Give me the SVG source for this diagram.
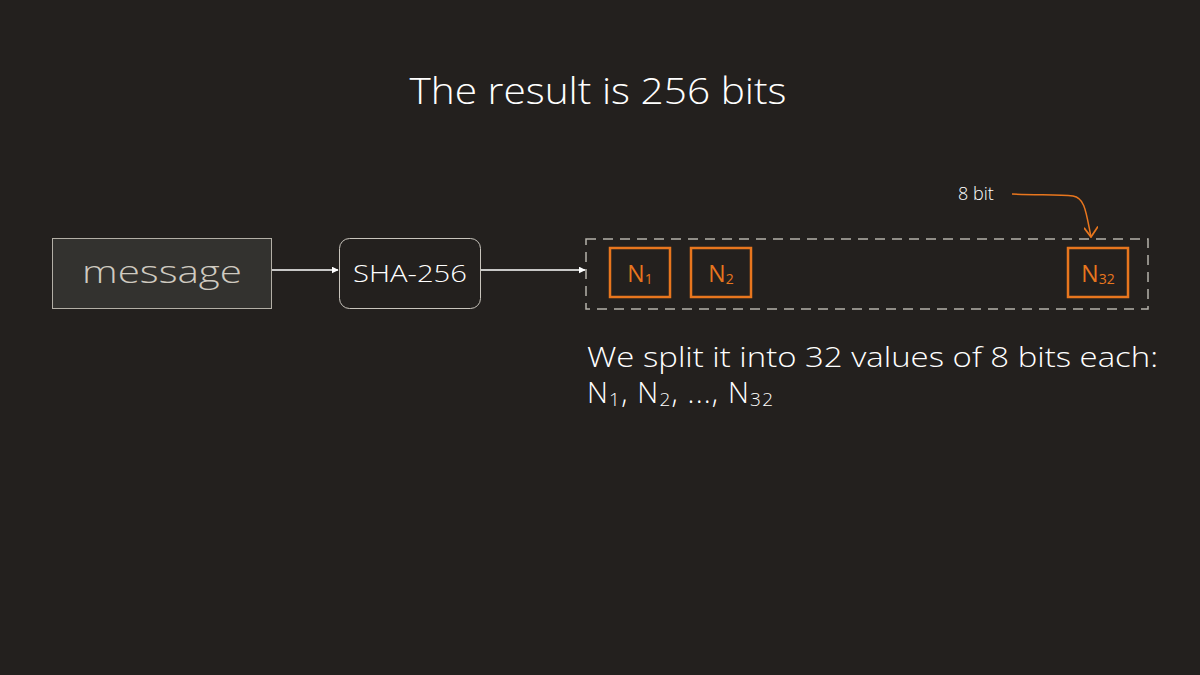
<svg xmlns="http://www.w3.org/2000/svg" width="1200" height="675" viewBox="0 0 1200 675">
<defs>
<style>
text{font-family:"Open Sans","Noto Sans","DejaVu Sans",sans-serif;font-weight:300}
.w{fill:#ffffff}
.o{fill:#e8761e;font-weight:400}
.ob{fill:none;stroke:#e8761e;stroke-width:2.5}
.sub{font-size:14px}
</style>
<marker id="ah" viewBox="0 0 10 10" refX="9" refY="5" markerWidth="7" markerHeight="7" orient="auto" markerUnits="userSpaceOnUse">
<path d="M0,0 L10,5 L0,10 z" fill="#ffffff"/>
</marker>
<marker id="oh" viewBox="0 0 12 12" refX="6" refY="11" markerWidth="14" markerHeight="14" orient="0" markerUnits="userSpaceOnUse">
<path d="M0,3 L6,11 L12,2" fill="none" stroke="#e8761e" stroke-width="1.5"/>
</marker>
</defs>
<rect width="1200" height="675" fill="#23201e"/>
<text x="598" y="104" text-anchor="middle" font-size="36" class="w" textLength="377" lengthAdjust="spacingAndGlyphs">The result is 256 bits</text>
<g id="message">
<rect x="52.5" y="238.5" width="219" height="70" fill="#33322f" stroke="#b3afa6" stroke-width="1"/>
<text x="162" y="283" text-anchor="middle" font-size="32" fill="#cfcac0" textLength="160" lengthAdjust="spacingAndGlyphs">message</text>
</g>
<g id="sha256">
<rect x="339.5" y="238.5" width="141" height="70" rx="10" fill="#23201e" stroke="#c8c4bc" stroke-width="1"/>
<text x="410" y="282" text-anchor="middle" font-size="24" class="w" textLength="114" lengthAdjust="spacingAndGlyphs">SHA-256</text>
</g>
<g id="result">
<rect x="586" y="239" width="562" height="70" fill="none" stroke="#b5b1aa" stroke-width="1.5" stroke-dasharray="10,7"/>
<g id="n1">
<rect x="610" y="248" width="60" height="49" class="ob"/>
<text x="640" y="282" text-anchor="middle" font-size="23" class="o">N<tspan class="sub" dy="2">1</tspan></text>
</g>
<g id="n2">
<rect x="691" y="248" width="60" height="49" class="ob"/>
<text x="721" y="282" text-anchor="middle" font-size="23" class="o">N<tspan class="sub" dy="2">2</tspan></text>
</g>
<g id="n32">
<rect x="1068" y="248" width="60" height="49" class="ob"/>
<text x="1098" y="282" text-anchor="middle" font-size="23" class="o">N<tspan class="sub" dy="2">32</tspan></text>
</g>
</g>
<g id="label8bit">
<text x="958" y="200" font-size="18" class="w">8 bit</text>
</g>
<g id="connectors">
<line x1="272" y1="270" x2="338" y2="270" stroke="#ffffff" stroke-width="1.5" marker-end="url(#ah)"/>
<line x1="481" y1="270" x2="585" y2="270" stroke="#ffffff" stroke-width="1.5" marker-end="url(#ah)"/>
<path d="M1012,194 C1040,195 1060,195 1073,196 C1085,198 1086,212 1091,237" fill="none" stroke="#e8761e" stroke-width="1.5" marker-end="url(#oh)"/>
</g>
<text x="587" y="367" font-size="28" class="w" textLength="571" lengthAdjust="spacingAndGlyphs">We split it into 32 values of 8 bits each:</text>
<text x="587" y="403" font-size="29" class="w" textLength="186" lengthAdjust="spacing">N<tspan font-size="19" dy="3">1</tspan><tspan dy="-3">, N</tspan><tspan font-size="19" dy="3">2</tspan><tspan dy="-3">, ..., N</tspan><tspan font-size="19" dy="3">32</tspan></text>
</svg>
